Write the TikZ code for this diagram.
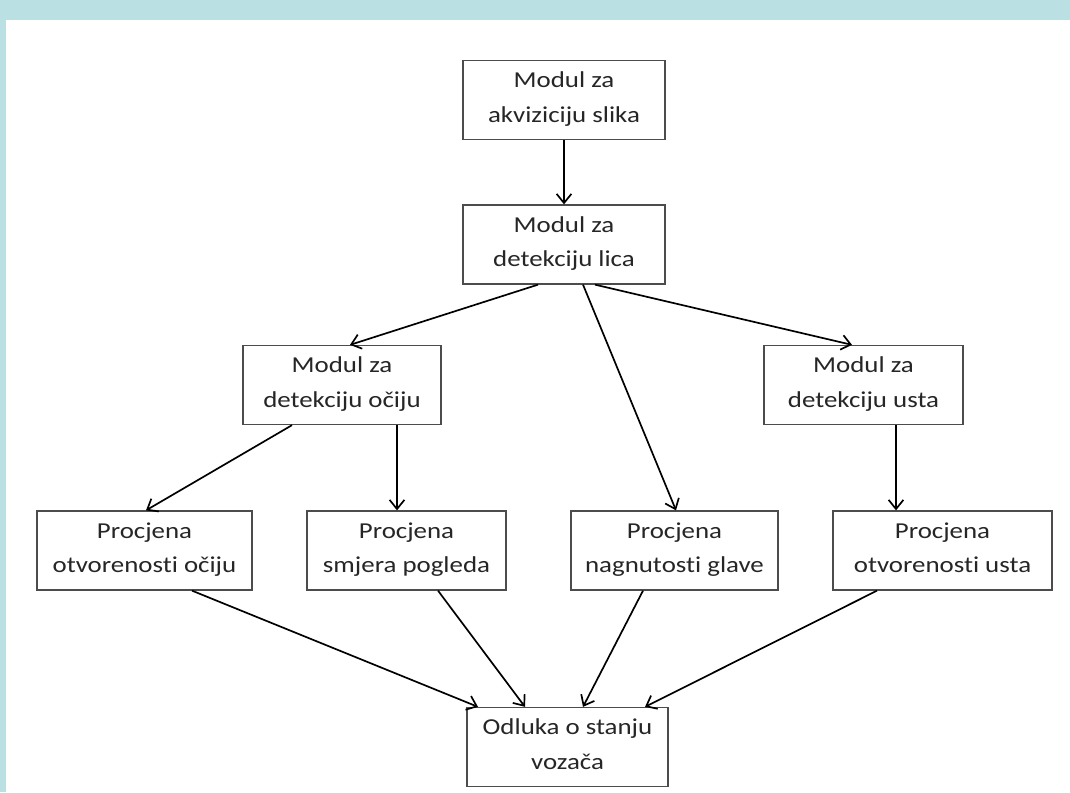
\documentclass[tikz,border=0pt]{standalone}
\usepackage{fontspec}
\setmainfont{Carlito}[FakeStretch=1.18, Ligatures=NoCommon]
\usetikzlibrary{calc}
\usetikzlibrary{arrows.meta}
\definecolor{rand}{RGB}{186,224,227}

\begin{document}
\begin{tikzpicture}[x=0.025cm, y=-0.025cm,
  kutija/.style={draw=black!70, line width=.9pt, text=black!85, align=center, minimum height=1.975cm, inner sep=0, text depth=4pt, font=\fontsize{16.2}{24.5}\selectfont},
  pijl/.style={black, line width=1.2pt, ->, >={Straight Barb[length=6.5pt, width=10.5pt]}}]
\useasboundingbox (0,0) rectangle (1070,792);
\fill[rand] (0,0) rectangle (1070,792);
\fill[white] (6,20) rectangle (1070,792);
% moduli
\node[kutija, minimum width=5.05cm] (akv) at (564,100) {Modul za\\akviziciju slika};
\node[kutija, minimum width=5.05cm] (lica) at (564,244.5) {Modul za\\detekciju lica};
\node[kutija, minimum width=4.95cm] (oci) at (342,385) {Modul za\\detekciju očiju};
\node[kutija, minimum width=4.975cm] (usta) at (863.5,385) {Modul za\\detekciju usta};
% procjene
\node[kutija, minimum width=5.375cm] (po) at (144.5,550.5) {Procjena\\otvorenosti očiju};
\node[kutija, minimum width=4.975cm] (pog) at (406.5,550.5) {Procjena\\smjera pogleda};
\node[kutija, minimum width=5.175cm] (gla) at (674.5,550.5) {Procjena\\nagnutosti glave};
\node[kutija, minimum width=5.475cm] (pus) at (942.5,550.5) {Procjena\\otvorenosti usta};
\node[kutija, minimum width=5.025cm] (odl) at (567.5,747) {Odluka o stanju\\vozača};
% veze
\draw[pijl] (akv) -- (lica);
\draw[pijl] ($(lica.south)+(-26,0)$) -- ($(oci.north)+(8,0)$);
\draw[pijl] ($(lica.south)+(19,0)$) -- ($(gla.north)+(1.5,0)$);
\draw[pijl] ($(lica.south)+(31,0)$) -- ($(usta.north)+(-11.5,0)$);
\draw[pijl] ($(oci.south)+(-50,0)$) -- ($(po.north)+(1.5,0)$);
\draw[pijl] ($(oci.south)+(55,0)$) -- ($(pog.north)+(-9.5,0)$);
\draw[pijl] ($(usta.south)+(32.5,0)$) -- ($(pus.north)+(-46.5,0)$);
\draw[pijl] ($(po.south)+(47.5,0)$) -- ($(odl.north)+(-89.5,0)$);
\draw[pijl] ($(pog.south)+(31.5,0)$) -- ($(odl.north)+(-42.5,0)$);
\draw[pijl] ($(gla.south)+(-31.5,0)$) -- ($(odl.north)+(15.5,0)$);
\draw[pijl] ($(pus.south)+(-65.5,0)$) -- ($(odl.north)+(77.5,0)$);
\end{tikzpicture}
\end{document}
